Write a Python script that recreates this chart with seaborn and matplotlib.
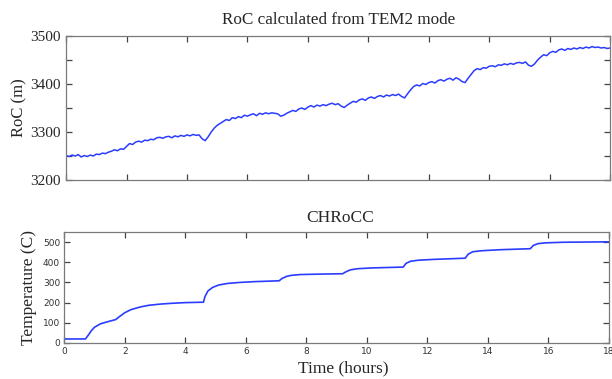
import numpy as np
import pandas as pd
import matplotlib
matplotlib.use("Agg")
import matplotlib.pyplot as plt
import seaborn as sns

# ---- data ----
roc_hours = [round(0.1 * i, 1) for i in range(181)]
roc_m = [3251, 3249, 3252, 3250, 3253, 3248, 3251, 3249, 3252, 3250, 3254,
         3253, 3256, 3255, 3258, 3260, 3263, 3261, 3265, 3264, 3270,
         3276, 3274, 3279, 3281, 3279, 3283, 3282, 3285, 3284, 3288,
         3289, 3287, 3290, 3291, 3288, 3292, 3290, 3293, 3291, 3294,
         3292, 3295, 3293, 3294, 3286, 3282, 3290, 3300, 3308, 3314,
         3318, 3322, 3326, 3324, 3330, 3328, 3332, 3330, 3335, 3333,
         3336, 3338, 3334, 3339, 3337, 3340, 3338, 3340, 3339, 3338,
         3333, 3335, 3339, 3342, 3345, 3343, 3348, 3350, 3347, 3352,
         3355, 3352, 3356, 3354, 3357, 3355, 3358, 3360, 3357, 3359,
         3354, 3351, 3356, 3360, 3364, 3362, 3367, 3369, 3366, 3371,
         3373, 3370, 3374, 3376, 3373, 3377, 3375, 3378, 3376, 3379,
         3374, 3371, 3380, 3388, 3395, 3398, 3396, 3401, 3399, 3403,
         3405, 3402, 3407, 3409, 3406, 3410, 3412, 3408, 3413, 3410,
         3405, 3403, 3412, 3420, 3428, 3432, 3430, 3434, 3433, 3437,
         3438, 3436, 3440, 3439, 3442, 3440, 3443, 3441, 3444, 3445,
         3443, 3446, 3439, 3437, 3442, 3450, 3456, 3461, 3459, 3465,
         3468, 3466, 3471, 3473, 3470, 3474, 3472, 3475, 3473, 3476,
         3474, 3477, 3475, 3478, 3476, 3477, 3475, 3476, 3474, 3475]

temp_hours = [0, 0.7, 0.8, 0.9, 1.0, 1.2, 1.4, 1.6, 1.7, 1.8, 2.0, 2.2, 2.5,
              2.8, 3.2, 3.6, 4.0, 4.6, 4.65, 4.75, 4.9, 5.1, 5.4, 5.8, 6.3,
              7.1, 7.2, 7.35, 7.5, 7.8, 8.4, 9.2, 9.3, 9.45, 9.7, 10.2, 11.2,
              11.3, 11.45, 11.7, 12.2, 13.25, 13.35, 13.5, 13.8, 14.4, 15.4,
              15.5, 15.65, 15.9, 16.5, 18]
temp_c = [20, 20, 40, 62, 78, 95, 104, 112, 116, 128, 150, 165, 178, 187, 193,
          197, 200, 202, 230, 258, 275, 287, 295, 300, 304, 308, 320, 330, 335,
          339, 341, 343, 352, 362, 368, 372, 376, 395, 405, 410, 414, 420, 440,
          452, 457, 462, 467, 483, 492, 496, 499, 501]

x_ticks = [0, 2, 4, 6, 8, 10, 12, 14, 16, 18]
roc_yticks = [3200, 3300, 3400, 3500]
temp_yticks = [0, 100, 200, 300, 400, 500]

roc_df = pd.DataFrame({"hours": roc_hours, "roc": roc_m})
temp_df = pd.DataFrame({"hours": temp_hours, "temp": temp_c})

sns.set_style("ticks")
serif = ["Liberation Serif", "DejaVu Serif"]
plt.rcParams["font.family"] = serif

line_color = "#2a3cff"
frame_color = "#7a7a7a"

fig = plt.figure(figsize=(6.12, 3.79), dpi=100)
ax1 = fig.add_axes([0.108, 0.525, 0.889, 0.380])
ax2 = fig.add_axes([0.105, 0.095, 0.890, 0.293])

sns.lineplot(data=roc_df, x="hours", y="roc", ax=ax1, color=line_color, lw=1.1)
sns.lineplot(data=temp_df, x="hours", y="temp", ax=ax2, color=line_color, lw=1.2)

for ax in (ax1, ax2):
    ax.set_xlim(0, 18)
    ax.set_xticks(x_ticks)
    for s in ax.spines.values():
        s.set_visible(True)
        s.set_color(frame_color)
        s.set_linewidth(0.9)
    ax.tick_params(direction="in", top=True, right=True, color="#444444",
                   length=4, width=0.9)

ax1.set_ylim(3200, 3500)
ax1.set_yticks(roc_yticks)
ax1.set_yticks([3250, 3350, 3450], minor=True)
ax1.tick_params(axis="y", which="minor", direction="in", right=True, left=True,
                length=4, width=0.9, color="#444444")
ax1.set_xticklabels([])
ax1.tick_params(axis="y", labelsize=11, pad=4)
ax1.set_xlabel("")
ax1.set_ylabel("RoC (m)", fontsize=12, labelpad=2)
ax1.set_title("RoC calculated from TEM2 mode", fontsize=12.3, pad=9)

ax2.set_ylim(0, 550)
ax2.set_yticks(temp_yticks)
ax2.set_xticklabels([str(v) for v in x_ticks], fontsize=6.5, color="#333333",
                    family="DejaVu Sans")
ax2.set_yticklabels([str(v) for v in temp_yticks], fontsize=6.5,
                    color="#333333", family="DejaVu Sans")
ax2.tick_params(axis="both", pad=3)
ax2.set_xlabel("Time (hours)", fontsize=12.5, labelpad=2)
ax2.xaxis.set_label_coords(0.513, -0.155)
ax2.set_ylabel("Temperature (C)", fontsize=12.5, labelpad=4)
ax2.set_title("CHRoCC", fontsize=12.5, pad=7, x=0.507)

fig.savefig("out.png", dpi=100)
